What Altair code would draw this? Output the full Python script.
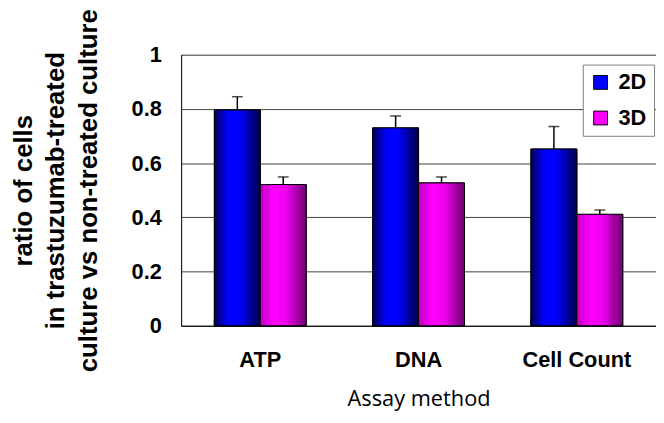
import altair as alt
import pandas as pd

categories = ["ATP", "DNA", "Cell Count"]
series = ["2D", "3D"]
val_2d = [0.796, 0.730, 0.652]
err_2d = [0.049, 0.044, 0.083]
val_3d = [0.521, 0.527, 0.411]
err_3d = [0.028, 0.022, 0.016]
y_ticks = [0, 0.2, 0.4, 0.6, 0.8, 1.0]

rows = []
for i, c in enumerate(categories):
    rows.append({"assay": c, "culture": "2D", "value": val_2d[i], "top": val_2d[i] + err_2d[i]})
    rows.append({"assay": c, "culture": "3D", "value": val_3d[i], "top": val_3d[i] + err_3d[i]})
df = pd.DataFrame(rows)
df_cat = pd.DataFrame({"assay": categories})

FONT = "Liberation Sans"

xenc = alt.X(
    "assay:N",
    sort=categories,
    scale=alt.Scale(paddingInner=0.42, paddingOuter=0.21),
    axis=alt.Axis(
        title="Assay method",
        labelAngle=0,
        labelFont=FONT,
        labelFontSize=22,
        labelFontWeight="bold",
        labelColor="black",
        labelPadding=24,
        ticks=False,
        tickSize=0,
        domainColor="black",
        titleFont="Open Sans",
        titleFontSize=22,
        titleFontWeight="normal",
        titleColor="black",
        titlePadding=19,
    ),
)
xoff = alt.XOffset("culture:N", sort=series)
yscale = alt.Scale(domain=[0, 1])

yenc = alt.Y(
    "value:Q",
    scale=yscale,
    axis=alt.Axis(
        values=y_ticks,
        format="~g",
        title=["ratio of cells", "in trastuzumab-treated", "culture vs non-treated culture"],
        titleFont=FONT,
        titleFontSize=26,
        titleFontWeight="bold",
        titleColor="black",
        titleLineHeight=33,
        titlePadding=30,
        labelFont=FONT,
        labelFontSize=22,
        labelFontWeight="bold",
        labelColor="black",
        labelPadding=20,
        ticks=False,
        tickSize=0,
        domainColor="black",
        gridColor="#404040",
        gridWidth=1,
    ),
)

base = alt.Chart(df).encode(x=xenc, xOffset=xoff)

legend_bars = base.mark_bar(stroke="black", strokeWidth=1).encode(
    y=yenc,
    color=alt.Color(
        "culture:N",
        sort=series,
        scale=alt.Scale(domain=series, range=["#0000ff", "#ff00ff"]),
        legend=alt.Legend(
            title=None,
            orient="none",
            legendX=406,
            legendY=10,
            symbolType="square",
            symbolSize=196,
            symbolStrokeColor="black",
            symbolStrokeWidth=1,
            symbolOpacity=1,
            labelFont=FONT,
            labelFontSize=22,
            labelFontWeight="bold",
            labelColor="black",
            labelOffset=7,
            rowPadding=14,
            padding=7,
            strokeColor="#808080",
            fillColor="white",
        ),
    ),
)

blue_grad = alt.Gradient(
    gradient="linear",
    x1=0, x2=1, y1=0, y2=0,
    stops=[
        alt.GradientStop(offset=0, color="#00005a"),
        alt.GradientStop(offset=0.3, color="#0000ff"),
        alt.GradientStop(offset=0.55, color="#0000ff"),
        alt.GradientStop(offset=1, color="#000048"),
    ],
)
mag_grad = alt.Gradient(
    gradient="linear",
    x1=0, x2=1, y1=0, y2=0,
    stops=[
        alt.GradientStop(offset=0, color="#c000c0"),
        alt.GradientStop(offset=0.3, color="#ff00ff"),
        alt.GradientStop(offset=0.55, color="#f000f0"),
        alt.GradientStop(offset=1, color="#700070"),
    ],
)

bars_2d = base.transform_filter(alt.datum.culture == "2D").mark_bar(
    fill=blue_grad, stroke="black", strokeWidth=1
).encode(y=alt.Y("value:Q", scale=yscale))
bars_3d = base.transform_filter(alt.datum.culture == "3D").mark_bar(
    fill=mag_grad, stroke="black", strokeWidth=1
).encode(y=alt.Y("value:Q", scale=yscale))

err_rule = base.mark_rule(color="black", strokeWidth=1.5).encode(
    y=alt.Y("value:Q", scale=yscale), y2="top:Q"
)
err_cap = base.mark_tick(color="black", size=11, thickness=1.5).encode(
    y=alt.Y("top:Q", scale=yscale)
)

bound_ticks = alt.Chart(df_cat).mark_rule(color="black", strokeWidth=1).encode(
    x=alt.X("assay:N", sort=categories, bandPosition=0),
    y=alt.datum(0),
    y2=alt.datum(0.027),
)

chart = (
    alt.layer(legend_bars, bars_2d, bars_3d, err_rule, err_cap, bound_ticks)
    .properties(
        width=480,
        height=274,
        autosize=alt.AutoSizeParams(type="none"),
        padding={"left": 175, "top": 45, "right": 0, "bottom": 88},
    )
    .configure_view(stroke="#909090", strokeWidth=1)
    .configure(background="white")
)

chart.save("out.html", embed_options={"renderer": "svg", "actions": False})
